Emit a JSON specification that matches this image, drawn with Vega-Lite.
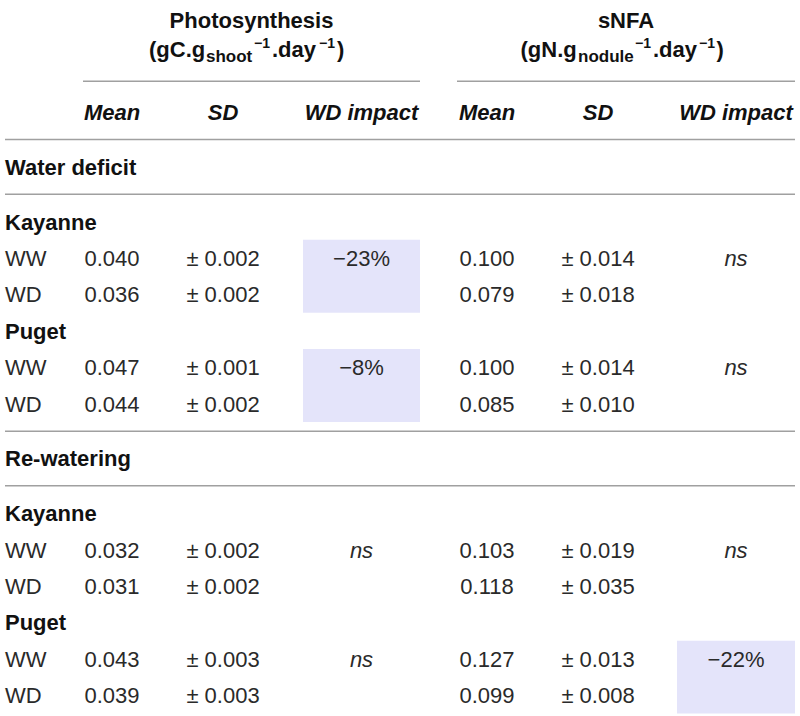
{
  "$schema": "https://vega.github.io/schema/vega-lite/v6.json",
  "width": 800,
  "height": 716,
  "autosize": "none",
  "padding": 0,
  "background": "white",
  "config": {"view": {"stroke": null}, "text": {"font": "Liberation Sans", "fontSize": 22}},
  "datasets": {
    "cells": [
      {"s": "title", "col": 4, "row": -2.53, "t": "Photosynthesis"},
      {"s": "title", "col": 11, "row": -2.53, "t": "sNFA"},
      {"s": "head", "col": 2, "row": 0, "t": "Mean"},
      {"s": "head", "col": 3, "row": 0, "t": "SD"},
      {"s": "head", "col": 6, "row": 0, "t": "WD impact"},
      {"s": "head", "col": 9, "row": 0, "t": "Mean"},
      {"s": "head", "col": 10, "row": 0, "t": "SD"},
      {"s": "head", "col": 13, "row": 0, "t": "WD impact"},
      {"s": "group", "col": 0, "row": 1.5, "t": "Water deficit"},
      {"s": "group", "col": 0, "row": 3, "t": "Kayanne"},
      {"s": "group", "col": 0, "row": 6, "t": "Puget"},
      {"s": "group", "col": 0, "row": 9.5, "t": "Re-watering"},
      {"s": "group", "col": 0, "row": 11, "t": "Kayanne"},
      {"s": "group", "col": 0, "row": 14, "t": "Puget"},
      {"s": "label", "col": 0, "row": 4, "t": "WW"},
      {"s": "label", "col": 0, "row": 5, "t": "WD"},
      {"s": "label", "col": 0, "row": 7, "t": "WW"},
      {"s": "label", "col": 0, "row": 8, "t": "WD"},
      {"s": "label", "col": 0, "row": 12, "t": "WW"},
      {"s": "label", "col": 0, "row": 13, "t": "WD"},
      {"s": "label", "col": 0, "row": 15, "t": "WW"},
      {"s": "label", "col": 0, "row": 16, "t": "WD"},
      {"s": "value", "col": 2, "row": 4, "t": "0.040"},
      {"s": "value", "col": 2, "row": 5, "t": "0.036"},
      {"s": "value", "col": 2, "row": 7, "t": "0.047"},
      {"s": "value", "col": 2, "row": 8, "t": "0.044"},
      {"s": "value", "col": 2, "row": 12, "t": "0.032"},
      {"s": "value", "col": 2, "row": 13, "t": "0.031"},
      {"s": "value", "col": 2, "row": 15, "t": "0.043"},
      {"s": "value", "col": 2, "row": 16, "t": "0.039"},
      {"s": "value", "col": 3, "row": 4, "t": "± 0.002"},
      {"s": "value", "col": 3, "row": 5, "t": "± 0.002"},
      {"s": "value", "col": 3, "row": 7, "t": "± 0.001"},
      {"s": "value", "col": 3, "row": 8, "t": "± 0.002"},
      {"s": "value", "col": 3, "row": 12, "t": "± 0.002"},
      {"s": "value", "col": 3, "row": 13, "t": "± 0.002"},
      {"s": "value", "col": 3, "row": 15, "t": "± 0.003"},
      {"s": "value", "col": 3, "row": 16, "t": "± 0.003"},
      {"s": "value", "col": 6, "row": 4, "t": "−23%"},
      {"s": "value", "col": 6, "row": 7, "t": "−8%"},
      {"s": "ns", "col": 6, "row": 12, "t": "ns"},
      {"s": "ns", "col": 6, "row": 15, "t": "ns"},
      {"s": "value", "col": 9, "row": 4, "t": "0.100"},
      {"s": "value", "col": 9, "row": 5, "t": "0.079"},
      {"s": "value", "col": 9, "row": 7, "t": "0.100"},
      {"s": "value", "col": 9, "row": 8, "t": "0.085"},
      {"s": "value", "col": 9, "row": 12, "t": "0.103"},
      {"s": "value", "col": 9, "row": 13, "t": "0.118"},
      {"s": "value", "col": 9, "row": 15, "t": "0.127"},
      {"s": "value", "col": 9, "row": 16, "t": "0.099"},
      {"s": "value", "col": 10, "row": 4, "t": "± 0.014"},
      {"s": "value", "col": 10, "row": 5, "t": "± 0.018"},
      {"s": "value", "col": 10, "row": 7, "t": "± 0.014"},
      {"s": "value", "col": 10, "row": 8, "t": "± 0.010"},
      {"s": "value", "col": 10, "row": 12, "t": "± 0.019"},
      {"s": "value", "col": 10, "row": 13, "t": "± 0.035"},
      {"s": "value", "col": 10, "row": 15, "t": "± 0.013"},
      {"s": "value", "col": 10, "row": 16, "t": "± 0.008"},
      {"s": "ns", "col": 13, "row": 4, "t": "ns"},
      {"s": "ns", "col": 13, "row": 7, "t": "ns"},
      {"s": "ns", "col": 13, "row": 12, "t": "ns"},
      {"s": "value", "col": 13, "row": 15, "t": "−22%"}
    ],
    "units": [
      {"g": "P", "p": "open", "col": 4, "row": -1.51, "t": "(gC.g"},
      {"g": "P", "p": "sub", "col": 4, "row": -1.51, "t": "shoot"},
      {"g": "P", "p": "sup1", "col": 4, "row": -1.51, "t": "−1"},
      {"g": "P", "p": "day", "col": 4, "row": -1.51, "t": ".day"},
      {"g": "P", "p": "sup2", "col": 4, "row": -1.51, "t": "−1"},
      {"g": "P", "p": "close", "col": 4, "row": -1.51, "t": ")"},
      {"g": "N", "p": "open", "col": 11, "row": -1.51, "t": "(gN.g"},
      {"g": "N", "p": "sub", "col": 11, "row": -1.51, "t": "nodule"},
      {"g": "N", "p": "sup1", "col": 11, "row": -1.51, "t": "−1"},
      {"g": "N", "p": "day", "col": 11, "row": -1.51, "t": ".day"},
      {"g": "N", "p": "sup2", "col": 11, "row": -1.51, "t": "−1"},
      {"g": "N", "p": "close", "col": 11, "row": -1.51, "t": ")"}
    ],
    "rules": [
      {"row": -0.85, "from": 1, "to": 7},
      {"row": -0.85, "from": 8, "to": 14},
      {"row": 0.75, "from": 0, "to": 14},
      {"row": 2.25, "from": 0, "to": 14},
      {"row": 8.75, "from": 0, "to": 14},
      {"row": 10.25, "from": 0, "to": 14}
    ],
    "shades": [
      {"from": 5, "to": 7, "r1": 3.5, "r2": 5.5},
      {"from": 5, "to": 7, "r1": 6.5, "r2": 8.5},
      {"from": 12, "to": 14, "r1": 14.5, "r2": 16.5}
    ]
  },
  "layer": [
    {
      "data": {"name": "shades"},
      "mark": {"type": "rect", "color": "#e4e4fa"},
      "encoding": {
        "x": {"field": "from", "type": "quantitative", "axis": null, "scale": {"domain": [0,1,2,3,4,5,6,7,8,9,10,11,12,13,14], "range": [5,83,112,223,251.5,303,361.5,420,457,487,598,626,677,736,795], "nice": false, "zero": false}},
        "x2": {"field": "to"},
        "y": {"field": "r1", "type": "quantitative", "axis": null, "scale": {"domain": [-3.0782, 16.5652], "range": [0, 716], "nice": false, "zero": false}},
        "y2": {"field": "r2"}
      }
    },
    {
      "data": {"name": "rules"},
      "mark": {"type": "rule", "color": "#a0a0a0", "strokeWidth": 1.5},
      "encoding": {
        "x": {"field": "from", "type": "quantitative", "axis": null},
        "x2": {"field": "to"},
        "y": {"field": "row", "type": "quantitative", "axis": null}
      }
    },
    {
      "data": {"name": "cells"},
      "transform": [{"filter": "datum.s === 'label'"}],
      "mark": {"type": "text", "align": "left", "baseline": "middle", "dy": 1, "color": "#2a2a2a"},
      "encoding": {
        "x": {"field": "col", "type": "quantitative", "axis": null},
        "y": {"field": "row", "type": "quantitative", "axis": null},
        "text": {"field": "t"}
      }
    },
    {
      "data": {"name": "cells"},
      "transform": [{"filter": "datum.s === 'group'"}],
      "mark": {"type": "text", "align": "left", "baseline": "middle", "dy": 1, "fontWeight": "bold", "color": "#111111"},
      "encoding": {
        "x": {"field": "col", "type": "quantitative", "axis": null},
        "y": {"field": "row", "type": "quantitative", "axis": null},
        "text": {"field": "t"}
      }
    },
    {
      "data": {"name": "cells"},
      "transform": [{"filter": "datum.s === 'value'"}],
      "mark": {"type": "text", "align": "center", "baseline": "middle", "dy": 1, "color": "#2a2a2a"},
      "encoding": {
        "x": {"field": "col", "type": "quantitative", "axis": null},
        "y": {"field": "row", "type": "quantitative", "axis": null},
        "text": {"field": "t"}
      }
    },
    {
      "data": {"name": "cells"},
      "transform": [{"filter": "datum.s === 'ns'"}],
      "mark": {"type": "text", "align": "center", "baseline": "middle", "dy": 1, "fontStyle": "italic", "color": "#2a2a2a"},
      "encoding": {
        "x": {"field": "col", "type": "quantitative", "axis": null},
        "y": {"field": "row", "type": "quantitative", "axis": null},
        "text": {"field": "t"}
      }
    },
    {
      "data": {"name": "cells"},
      "transform": [{"filter": "datum.s === 'head'"}],
      "mark": {"type": "text", "align": "center", "baseline": "middle", "dy": 1, "fontStyle": "italic", "fontWeight": "bold", "color": "#111111"},
      "encoding": {
        "x": {"field": "col", "type": "quantitative", "axis": null},
        "y": {"field": "row", "type": "quantitative", "axis": null},
        "text": {"field": "t"}
      }
    },
    {
      "data": {"name": "cells"},
      "transform": [{"filter": "datum.s === 'title'"}],
      "mark": {"type": "text", "align": "center", "baseline": "middle", "dy": 1, "fontWeight": "bold", "color": "#111111"},
      "encoding": {
        "x": {"field": "col", "type": "quantitative", "axis": null},
        "y": {"field": "row", "type": "quantitative", "axis": null},
        "text": {"field": "t"}
      }
    },
    {
      "data": {"name": "units"},
      "transform": [{"filter": "datum.g === 'P' && datum.p === 'open'"}],
      "mark": {"type": "text", "align": "left", "baseline": "alphabetic", "dx": -102.5, "fontWeight": "bold", "color": "#111111"},
      "encoding": {"x": {"field": "col", "type": "quantitative", "axis": null}, "y": {"field": "row", "type": "quantitative", "axis": null}, "text": {"field": "t"}}
    },
    {
      "data": {"name": "units"},
      "transform": [{"filter": "datum.g === 'P' && datum.p === 'sub'"}],
      "mark": {"type": "text", "align": "left", "baseline": "alphabetic", "dx": -45.5, "dy": 5, "fontSize": 17, "fontWeight": "bold", "color": "#111111"},
      "encoding": {"x": {"field": "col", "type": "quantitative", "axis": null}, "y": {"field": "row", "type": "quantitative", "axis": null}, "text": {"field": "t"}}
    },
    {
      "data": {"name": "units"},
      "transform": [{"filter": "datum.g === 'P' && datum.p === 'sup1'"}],
      "mark": {"type": "text", "align": "left", "baseline": "alphabetic", "dx": 2.5, "dy": -9, "fontSize": 14, "fontWeight": "bold", "color": "#111111"},
      "encoding": {"x": {"field": "col", "type": "quantitative", "axis": null}, "y": {"field": "row", "type": "quantitative", "axis": null}, "text": {"field": "t"}}
    },
    {
      "data": {"name": "units"},
      "transform": [{"filter": "datum.g === 'P' && datum.p === 'day'"}],
      "mark": {"type": "text", "align": "left", "baseline": "alphabetic", "dx": 20.5, "fontWeight": "bold", "color": "#111111"},
      "encoding": {"x": {"field": "col", "type": "quantitative", "axis": null}, "y": {"field": "row", "type": "quantitative", "axis": null}, "text": {"field": "t"}}
    },
    {
      "data": {"name": "units"},
      "transform": [{"filter": "datum.g === 'P' && datum.p === 'sup2'"}],
      "mark": {"type": "text", "align": "left", "baseline": "alphabetic", "dx": 67.5, "dy": -9, "fontSize": 14, "fontWeight": "bold", "color": "#111111"},
      "encoding": {"x": {"field": "col", "type": "quantitative", "axis": null}, "y": {"field": "row", "type": "quantitative", "axis": null}, "text": {"field": "t"}}
    },
    {
      "data": {"name": "units"},
      "transform": [{"filter": "datum.g === 'P' && datum.p === 'close'"}],
      "mark": {"type": "text", "align": "left", "baseline": "alphabetic", "dx": 85.5, "fontWeight": "bold", "color": "#111111"},
      "encoding": {"x": {"field": "col", "type": "quantitative", "axis": null}, "y": {"field": "row", "type": "quantitative", "axis": null}, "text": {"field": "t"}}
    },
    {
      "data": {"name": "units"},
      "transform": [{"filter": "datum.g === 'N' && datum.p === 'open'"}],
      "mark": {"type": "text", "align": "left", "baseline": "alphabetic", "dx": -105.5, "fontWeight": "bold", "color": "#111111"},
      "encoding": {"x": {"field": "col", "type": "quantitative", "axis": null}, "y": {"field": "row", "type": "quantitative", "axis": null}, "text": {"field": "t"}}
    },
    {
      "data": {"name": "units"},
      "transform": [{"filter": "datum.g === 'N' && datum.p === 'sub'"}],
      "mark": {"type": "text", "align": "left", "baseline": "alphabetic", "dx": -48, "dy": 5, "fontSize": 17, "fontWeight": "bold", "color": "#111111"},
      "encoding": {"x": {"field": "col", "type": "quantitative", "axis": null}, "y": {"field": "row", "type": "quantitative", "axis": null}, "text": {"field": "t"}}
    },
    {
      "data": {"name": "units"},
      "transform": [{"filter": "datum.g === 'N' && datum.p === 'sup1'"}],
      "mark": {"type": "text", "align": "left", "baseline": "alphabetic", "dx": 9, "dy": -9, "fontSize": 14, "fontWeight": "bold", "color": "#111111"},
      "encoding": {"x": {"field": "col", "type": "quantitative", "axis": null}, "y": {"field": "row", "type": "quantitative", "axis": null}, "text": {"field": "t"}}
    },
    {
      "data": {"name": "units"},
      "transform": [{"filter": "datum.g === 'N' && datum.p === 'day'"}],
      "mark": {"type": "text", "align": "left", "baseline": "alphabetic", "dx": 27, "fontWeight": "bold", "color": "#111111"},
      "encoding": {"x": {"field": "col", "type": "quantitative", "axis": null}, "y": {"field": "row", "type": "quantitative", "axis": null}, "text": {"field": "t"}}
    },
    {
      "data": {"name": "units"},
      "transform": [{"filter": "datum.g === 'N' && datum.p === 'sup2'"}],
      "mark": {"type": "text", "align": "left", "baseline": "alphabetic", "dx": 73, "dy": -9, "fontSize": 14, "fontWeight": "bold", "color": "#111111"},
      "encoding": {"x": {"field": "col", "type": "quantitative", "axis": null}, "y": {"field": "row", "type": "quantitative", "axis": null}, "text": {"field": "t"}}
    },
    {
      "data": {"name": "units"},
      "transform": [{"filter": "datum.g === 'N' && datum.p === 'close'"}],
      "mark": {"type": "text", "align": "left", "baseline": "alphabetic", "dx": 90.5, "fontWeight": "bold", "color": "#111111"},
      "encoding": {"x": {"field": "col", "type": "quantitative", "axis": null}, "y": {"field": "row", "type": "quantitative", "axis": null}, "text": {"field": "t"}}
    }
  ]
}
